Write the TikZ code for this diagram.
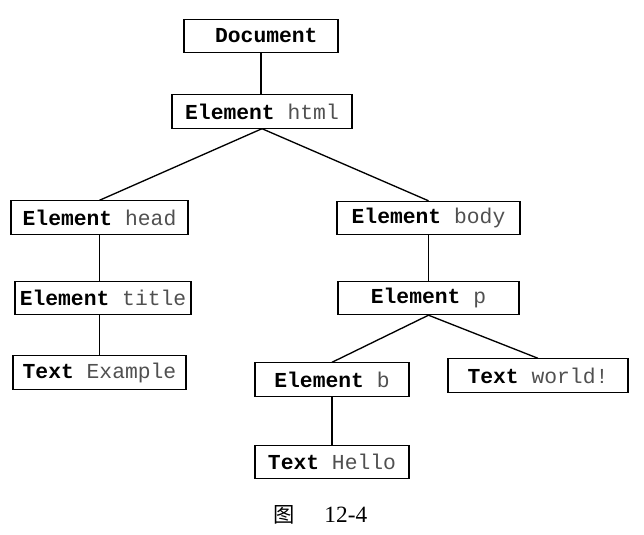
\documentclass[tikz,border=0pt]{standalone}
\usepackage{fontspec}
\setmainfont{Liberation Serif}
\setmonofont{Liberation Mono}
\newfontfamily\cjk{Noto Sans CJK SC}
\newcommand{\domlabel}[2]{\textbf{#1} \textcolor{valgray}{#2}}
\definecolor{valgray}{HTML}{505050}

\begin{document}
\begin{tikzpicture}
[
x=0.75pt, y=-0.75pt,
domnode/.style={
% The shape:
rectangle,
% The size:
minimum height=25pt,
inner sep=0pt,
% The border:
draw=black,
line width=0.8pt,
% The text:
font=\ttfamily\fontsize{16}{18}\selectfont,
},
link/.style={
line width=1pt,
black,
}
]
    \useasboundingbox (0,0) rectangle (644,535);
    \node[domnode, minimum width=115.5pt] (doc) at (261, 36) {\hspace{8pt}\textbf{Document}};
    \node[domnode, minimum width=135pt] (html) at (262, 111.5) {\domlabel{Element}{html}};
    \node[domnode, minimum width=132.75pt] (head) at (99.5, 217.5) {\domlabel{Element}{head}};
    \node[domnode, minimum width=132pt] (title) at (103, 298) {\domlabel{Element}{title}};
    \node[domnode, minimum width=129.75pt] (example) at (99.5, 372.5) {\domlabel{Text}{Example}};
    \node[domnode, minimum width=137.25pt] (body) at (428.5, 218) {\domlabel{Element}{body}};
    \node[domnode, minimum width=135.75pt] (p) at (428.5, 298) {\domlabel{Element}{p}};
    \node[domnode, minimum width=115.5pt] (b) at (332, 379.5) {\domlabel{Element}{b}};
    \node[domnode, minimum width=135pt] (world) at (538, 375.5) {\domlabel{Text}{world!}};
    \node[domnode, minimum width=115.5pt] (hello) at (332, 462) {\domlabel{Text}{Hello}};
    \draw[link] (doc.south) -- (doc.south |- html.north);
    \draw[link] (html.south) -- (head.north);
    \draw[link] (html.south) -- (body.north);
    \draw[link] (head.south) -- (head.south |- title.north);
    \draw[link] (head.south |- title.south) -- (head.south |- example.north);
    \draw[link] (body.south) -- (p.north);
    \draw[link] (p.south) -- (b.north);
    \draw[link] (p.south) -- (world.north);
    \draw[link] (b.south) -- (hello.north);
    % caption
    \node (caption) at (320.5, 515) {{\cjk\fontsize{16}{18}\selectfont 图}\hspace{22pt}{\fontsize{17.5}{19}\selectfont 12-4}};
\end{tikzpicture}
\end{document}
